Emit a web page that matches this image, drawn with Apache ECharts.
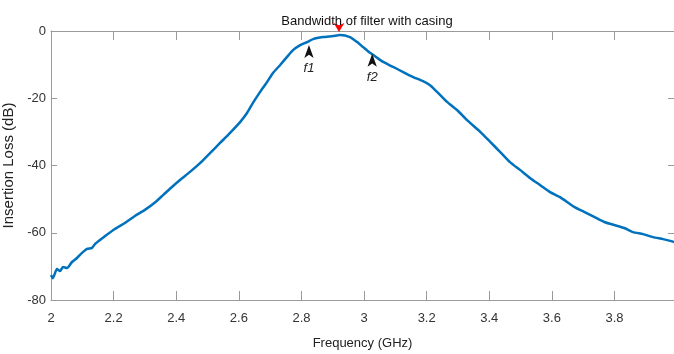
<!DOCTYPE html>
<html>
<head>
<meta charset="utf-8">
<script src="https://cdn.jsdelivr.net/npm/echarts@6/dist/echarts.min.js"></script>
<style>
    body { margin: 0; background: #fff; }
    #main { width: 674px; height: 354px; }
</style>
</head>
<body>
<div id="main"></div>
<script>
const log = console.log.bind(console)
const e = sel => document.querySelector(sel)

// frequency (GHz) and insertion loss (dB)
const freq = [
    2.000, 2.006, 2.019, 2.029, 2.038, 2.051, 2.067, 2.083, 2.099, 2.115,
    2.131, 2.141, 2.173, 2.204, 2.236, 2.268, 2.300, 2.332, 2.358, 2.380,
    2.412, 2.444, 2.476, 2.508, 2.540, 2.572, 2.604, 2.626, 2.645, 2.668,
    2.690, 2.709, 2.732, 2.754, 2.773, 2.796, 2.818, 2.837, 2.869, 2.901,
    2.923, 2.955, 2.978, 2.997, 3.019, 3.042, 3.061, 3.093, 3.125, 3.157,
    3.188, 3.211, 3.233, 3.265, 3.297, 3.329, 3.371, 3.403, 3.435, 3.466,
    3.498, 3.530, 3.562, 3.594, 3.626, 3.671, 3.703, 3.735, 3.767, 3.799,
    3.831, 3.859, 3.891, 3.923, 3.955, 3.981, 3.990,
]
const loss = [
    -72.6, -73.5, -70.8, -71.4, -70.2, -70.5, -68.7, -67.5, -66.0, -64.8,
    -64.5, -63.3, -61.0, -58.9, -57.1, -55.0, -53.2, -51.0, -48.8, -46.9,
    -44.3, -41.9, -39.3, -36.3, -33.3, -30.3, -27.1, -24.4, -21.4, -18.1,
    -15.2, -12.5, -10.1, -7.7, -5.7, -4.2, -3.3, -2.4, -1.8, -1.5,
    -1.2, -1.8, -3.3, -4.8, -6.5, -8.0, -9.2, -10.7, -12.2, -13.7,
    -14.9, -16.1, -18.1, -21.1, -23.5, -26.5, -30.0, -33.0, -36.0, -39.0,
    -41.3, -43.7, -45.8, -47.9, -49.4, -52.3, -53.8, -55.3, -56.8, -57.7,
    -58.6, -59.8, -60.4, -61.3, -61.9, -62.5, -62.8,
]

// band edge markers f1, f2 and the centre marker
const edgeNames = ['f1', 'f2']
const edgeFreq = [2.824, 3.026]
const edgeLoss = [-4.2, -6.8]
const centreFreq = 2.92
const centreLoss = -0.3

const axisGrey = '#9a9a9a'
const textGrey = '#333'
const font = '"Liberation Sans", Arial, sans-serif'

const __main = () => {
    let chart = echarts.init(e('#main'), null, { renderer: 'canvas' })
    let points = freq.map((f, i) => [f, loss[i]])

    let marks = edgeNames.map((n, i) => ({
        name: n,
        coord: [edgeFreq[i], edgeLoss[i]],
        symbol: 'arrow',
        symbolSize: [7, 13],
        itemStyle: { color: '#111' },
        label: {
            show: true,
            formatter: n,
            position: 'bottom',
            distance: 4,
            color: '#222',
            fontStyle: 'italic',
            fontSize: 13,
            fontFamily: font,
        },
    }))
    marks.push({
        name: 'centre',
        coord: [centreFreq, centreLoss],
        symbol: 'arrow',
        symbolRotate: 180,
        symbolSize: [8, 9],
        itemStyle: { color: '#ff0000' },
        label: { show: false },
    })

    let xBase = {
        type: 'value',
        min: 2,
        max: 3.99,
        interval: 0.2,
        axisLine: { show: true, onZero: false, lineStyle: { color: axisGrey, width: 1 } },
        axisTick: { show: true, inside: true, length: 9, lineStyle: { color: axisGrey } },
        axisLabel: { show: false },
        splitLine: { show: false },
    }
    let yBase = {
        type: 'value',
        min: -80,
        max: 0,
        interval: 20,
        axisLine: { show: true, onZero: false, lineStyle: { color: axisGrey, width: 1 } },
        axisTick: { show: true, inside: true, length: 6, lineStyle: { color: axisGrey } },
        axisLabel: { show: false },
        splitLine: { show: false },
    }

    let option = {
        animation: false,
        backgroundColor: '#fff',
        title: {
            text: 'Bandwidth of filter with casing',
            left: 362,
            textAlign: 'center',
            top: 10,
            textStyle: {
                fontSize: 13,
                fontWeight: 'normal',
                color: '#111',
                fontFamily: font,
            },
        },
        grid: { left: 51, right: 0, top: 31, bottom: 54, containLabel: false, outerBoundsMode: 'none' },
        xAxis: [
            Object.assign({}, xBase, {
                position: 'bottom',
                name: 'Frequency (GHz)',
                nameLocation: 'middle',
                nameGap: 37,
                nameTextStyle: { fontSize: 13, color: '#222', fontFamily: font },
                axisLabel: {
                    show: true,
                    margin: 12,
                    fontSize: 13,
                    color: textGrey,
                    fontFamily: font,
                    showMaxLabel: false,
                    formatter: v => String(Math.round(v * 10) / 10),
                },
            }),
            Object.assign({}, xBase, { position: 'top' }),
        ],
        yAxis: [
            Object.assign({}, yBase, {
                position: 'left',
                name: 'Insertion Loss (dB)',
                nameLocation: 'middle',
                nameGap: 30,
                nameTextStyle: { fontSize: 15, color: '#222', fontFamily: font },
                axisLabel: {
                    show: true,
                    margin: 5,
                    fontSize: 13,
                    color: textGrey,
                    fontFamily: font,
                },
            }),
            Object.assign({}, yBase, { position: 'right' }),
        ],
        series: [
            {
                name: 'Insertion Loss',
                type: 'line',
                data: points,
                showSymbol: false,
                smooth: 0.2,
                lineStyle: { color: '#0072BD', width: 2.5 },
                markPoint: { data: marks, animation: false },
            },
        ],
    }

    chart.setOption(option)
}

__main()
</script>
</body>
</html>
